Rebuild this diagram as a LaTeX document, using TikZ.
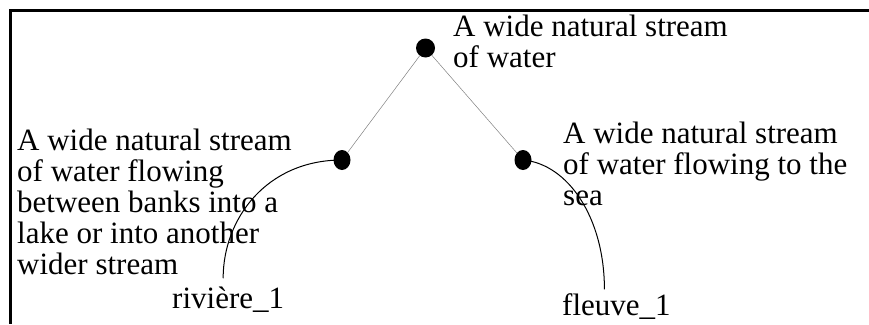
\documentclass[tikz,border=0pt]{standalone}
\usepackage{fontspec}
\setmainfont{Liberation Serif}
\usetikzlibrary{shapes.geometric}
\begin{document}
\begin{tikzpicture}[x=1pt,y=1pt,
  dot/.style={ellipse,fill=black,inner sep=0pt,minimum width=17pt,minimum height=20pt},
  gloss/.style={align=left,inner sep=0pt,anchor=north west,font=\fontsize{31}{31}\selectfont},
  lbl/.style={inner sep=0pt,anchor=base west,font=\fontsize{31}{31}\selectfont},
  tree/.style={draw=gray,line width=0.5pt},
  sense/.style={draw=black,line width=1pt}]
\useasboundingbox (0,0) rectangle (869,-324);
\draw[line width=3pt] (869,-10.5) -- (10,-10.5) -- (10,-324);
\node[dot,minimum width=19pt,minimum height=19pt] (top) at (425.5,-48) {};
\node[dot] (l) at (342,-160) {};
\node[dot] (r) at (523,-160) {};
\node[gloss] (ttop) at (453,-15) {A wide natural stream\\of water};
\node[gloss] (tl) at (17,-129) {A wide natural stream\\of water flowing\\between banks into a\\lake or into another\\wider stream};
\node[gloss] (tr) at (563,-122) {A wide natural stream\\of water flowing to the\\sea};
\node[lbl] (riv) at (172,-308) {rivière\_1};
\node[lbl] (fl) at (562,-315) {fleuve\_1};
\draw[tree] (top) -- (l);
\draw[tree] (top) -- (r);
\draw[sense] (l.center) to[out=180,in=90,out distance=75pt,in distance=60pt] ([xshift=-5pt,yshift=8pt]riv.north);
\draw[sense] (r.center) to[out=-5,in=90,out distance=45pt,in distance=72pt] ([xshift=-12pt,yshift=3.5pt]fl.north);
\end{tikzpicture}
\end{document}
